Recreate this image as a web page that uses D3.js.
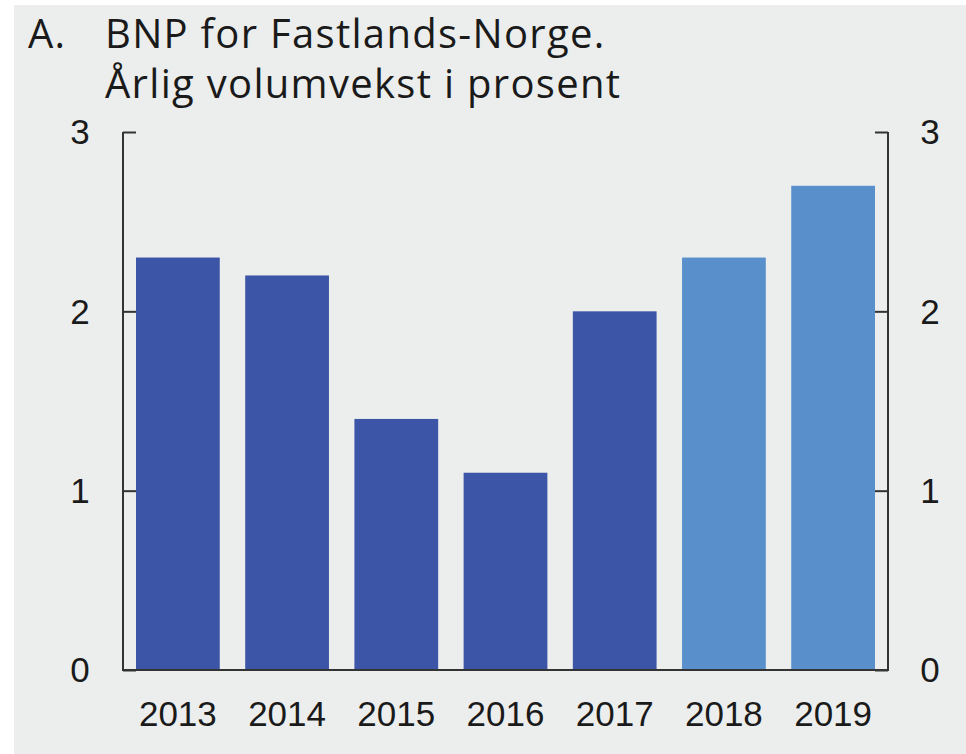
<!DOCTYPE html>
<html>
<head>
<meta charset="utf-8">
<script src="https://cdn.jsdelivr.net/npm/d3@7"></script>
<style>
  body { margin: 0; background: #fff; }
  svg { display: block; }
  .title { font-family: "Open Sans"; font-weight: 500; letter-spacing: 1.3px; }
  .lbl { font-family: "Liberation Sans", Arial, sans-serif; }
</style>
</head>
<body>
<svg id="chart"></svg>
<script>
// data
var years = ["2013", "2014", "2015", "2016", "2017", "2018", "2019"];
var growth = [2.3, 2.2, 1.4, 1.1, 2.0, 2.3, 2.7];
var forecast = [false, false, false, false, false, true, true];
var yTicks = [0, 1, 2, 3];

var width = 966;
var height = 754;
var margin = {top: 132, right: 78, bottom: 84, left: 123};
var innerW = width - margin.left - margin.right;
var innerH = height - margin.top - margin.bottom;

var svg = d3.select("#chart")
    .attr("width", width)
    .attr("height", height);

// grey panel
svg.append("rect")
    .attr("x", 14).attr("y", 5)
    .attr("width", width - 14).attr("height", height - 5)
    .attr("fill", "#eceeed");

// title
var title = svg.append("text")
    .attr("class", "title")
    .attr("font-size", 40)
    .attr("fill", "#1a1a1a");
title.append("tspan").attr("x", 28).attr("y", 48).text("A.");
title.append("tspan").attr("x", 105).attr("y", 48).text("BNP for Fastlands-Norge.");
title.append("tspan").attr("x", 105).attr("y", 98).text("Årlig volumvekst i prosent");

var g = svg.append("g")
    .attr("transform", "translate(" + margin.left + "," + margin.top + ")");

var x = d3.scaleBand()
    .domain(years)
    .range([0, innerW])
    .paddingInner(0.233)
    .paddingOuter(0.119);

var y = d3.scaleLinear()
    .domain([0, 3])
    .range([innerH, 0]);

// bars
g.selectAll("rect.bar")
    .data(years)
    .enter()
    .append("rect")
    .attr("class", "bar")
    .attr("x", function(d) { return x(d); })
    .attr("width", x.bandwidth())
    .attr("y", function(d, i) { return y(growth[i]); })
    .attr("height", function(d, i) { return innerH - y(growth[i]); })
    .attr("fill", function(d, i) { return forecast[i] ? "#5990cb" : "#3d55a6"; });

// axes: ticks point inward on both sides
var leftAxis = d3.axisRight(y).tickValues(yTicks).tickSize(13).tickFormat("");
var rightAxis = d3.axisLeft(y).tickValues(yTicks).tickSize(13).tickFormat("");

var la = g.append("g").call(leftAxis);
var ra = g.append("g").attr("transform", "translate(" + innerW + ",0)").call(rightAxis);
[la, ra].forEach(function(a) {
  a.select(".domain").remove();
  a.selectAll("line").attr("stroke", "#333").attr("stroke-width", 2);
});

g.append("line")
    .attr("x1", 0).attr("x2", 0).attr("y1", 0).attr("y2", innerH)
    .attr("stroke", "#333").attr("stroke-width", 2);
g.append("line")
    .attr("x1", innerW).attr("x2", innerW).attr("y1", 0).attr("y2", innerH)
    .attr("stroke", "#333").attr("stroke-width", 2);
g.append("line")
    .attr("x1", -1).attr("x2", innerW + 1).attr("y1", innerH).attr("y2", innerH)
    .attr("stroke", "#333").attr("stroke-width", 2);

// tick labels
g.selectAll("text.yl")
    .data(yTicks)
    .enter()
    .append("text")
    .attr("class", "yl lbl")
    .attr("x", -43)
    .attr("y", function(d) { return y(d); })
    .attr("dy", "0.35em")
    .attr("text-anchor", "middle")
    .attr("font-size", 35)
    .attr("fill", "#1a1a1a")
    .text(function(d) { return d; });

g.selectAll("text.yr")
    .data(yTicks)
    .enter()
    .append("text")
    .attr("class", "yr lbl")
    .attr("x", innerW + 42)
    .attr("y", function(d) { return y(d); })
    .attr("dy", "0.35em")
    .attr("text-anchor", "middle")
    .attr("font-size", 35)
    .attr("fill", "#1a1a1a")
    .text(function(d) { return d; });

g.selectAll("text.xl")
    .data(years)
    .enter()
    .append("text")
    .attr("class", "xl lbl")
    .attr("x", function(d) { return x(d) + x.bandwidth() / 2; })
    .attr("y", innerH + 56)
    .attr("text-anchor", "middle")
    .attr("font-size", 35)
    .attr("fill", "#1a1a1a")
    .text(function(d) { return d; });
</script>
</body>
</html>
